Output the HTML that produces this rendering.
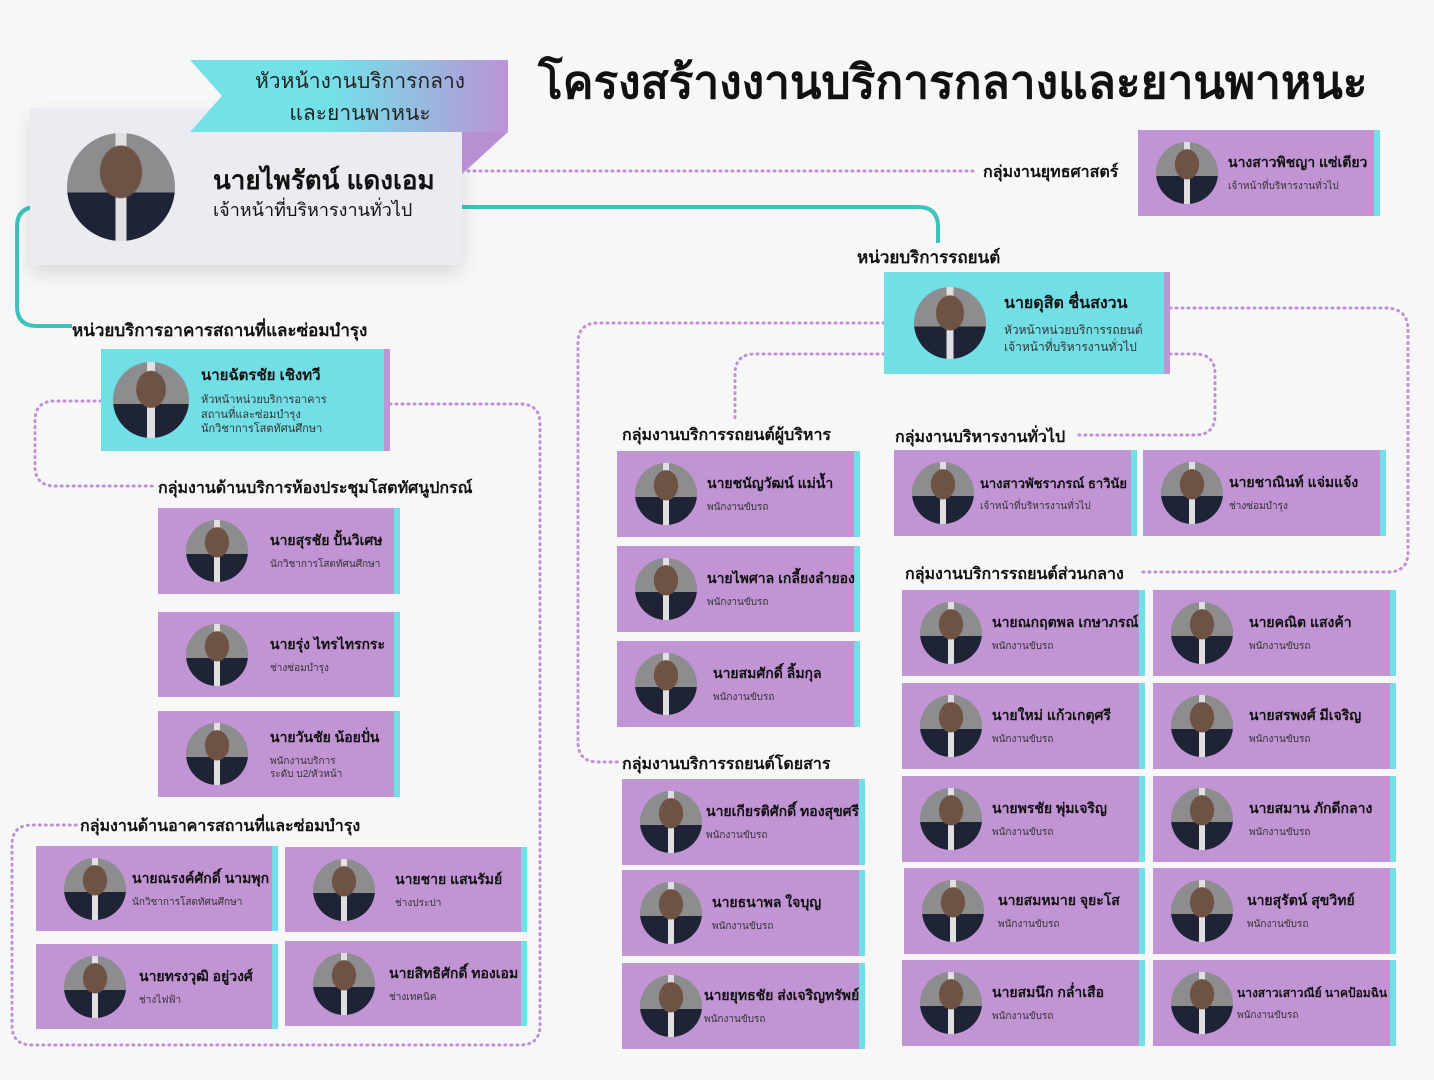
<!DOCTYPE html>
<html><head><meta charset="utf-8"><style>
*{margin:0;padding:0}
body{width:1434px;height:1080px;background:#f7f7f8;position:relative;overflow:hidden;font-family:"Liberation Sans","Noto Sans CJK SC",sans-serif;color:#111}
.c{position:absolute;background:#c194d3;border-right:6px solid #72dee6;box-sizing:border-box}
.cy{background:#72dee6;border-right:6px solid #c194d3}
.av{position:absolute;left:18px;top:50%;margin-top:-31px;width:62px;height:62px;border-radius:50%;
background:radial-gradient(ellipse 20% 25% at 50% 36%,#6e5244 0 95%,transparent 100%),linear-gradient(90deg,transparent 45%,#e0e0e2 45%,#e0e0e2 55%,transparent 55%),linear-gradient(#8d8c8e 0,#8d8c8e 55%,#1e2436 55%);}
.t{position:absolute;left:90px;right:4px;top:0;bottom:0;display:flex;flex-direction:column;justify-content:center}
.t b{font-size:14px;white-space:nowrap}
.t span{font-size:10px;color:#333;margin-top:6px;line-height:1.35}
.lab{position:absolute;font-weight:bold;font-size:17px;white-space:nowrap}
</style></head><body>
<svg width="1434" height="1080" style="position:absolute;left:0;top:0">
<g fill="none" stroke="#c08fd6" stroke-width="3" stroke-dasharray="1 5" stroke-linecap="round">
<path d="M468 171 H978"/>
<path d="M390 404 H520 Q540 404 540 424 V1025 Q540 1045 520 1045 H32 Q12 1045 12 1025 V845 Q12 825 32 825 H78"/>
<path d="M101 401 H55 Q35 401 35 421 V466 Q35 486 55 486 H156"/>
<path d="M884 323 H598 Q578 323 578 343 V742 Q578 762 598 762 H620"/>
<path d="M884 354 H755 Q735 354 735 374 V420"/>
<path d="M1170 308 H1385 Q1408 308 1408 330 V552 Q1408 572 1388 572 H1140"/>
<path d="M1170 354 H1195 Q1215 354 1215 374 V415 Q1215 435 1195 435 H1075"/>
</g>
<g fill="none" stroke="#3cc3bd" stroke-width="4">
<path d="M462 207 H918 Q938 207 938 227 V243"/>
<path d="M30 207 H37 Q17 207 17 227 V306 Q17 326 37 326 H72"/>
</g>
<defs><linearGradient id="g" x1="0" x2="1"><stop offset="0.45" stop-color="#74e0e8"/><stop offset="1" stop-color="#bb93d6"/></linearGradient></defs>
</svg>
<div style="position:absolute;left:30px;top:108px;width:432px;height:157px;background:#ebebf2;box-shadow:0 8px 18px rgba(0,0,0,.12)"></div>
<svg width="520" height="200" style="position:absolute;left:0;top:40px">
<polygon points="190,20 508,20 508,92 190,92 222,56" fill="url(#g)"/>
<polygon points="462,92 508,92 462,134" fill="#b88fd3"/>
</svg>
<div style="position:absolute;left:230px;top:66px;width:260px;text-align:center;font-size:21px;line-height:32px;color:#222">หัวหน้างานบริการกลาง<br>และยานพาหนะ</div>
<div class="av" style="left:67px;top:133px;margin:0;width:108px;height:108px"></div>
<div style="position:absolute;left:213px;top:160px;font-size:26px;font-weight:bold;white-space:nowrap">นายไพรัตน์ แดงเอม</div>
<div style="position:absolute;left:213px;top:195px;font-size:18px">เจ้าหน้าที่บริหารงานทั่วไป</div>
<div style="position:absolute;left:538px;top:46px;font-size:46px;font-weight:bold;white-space:nowrap">โครงสร้างงานบริการกลางและยานพาหนะ</div>

<div class="lab" style="left:983px;top:160px;font-size:16px">กลุ่มงานยุทธศาสตร์</div>
<div class="c" style="left:1138px;top:130px;width:242px;height:86px"><i class="av"></i><div class="t"><b>นางสาวพิชญา แซ่เตียว</b><span>เจ้าหน้าที่บริหารงานทั่วไป</span></div></div>

<div class="lab" style="left:857px;top:244px">หน่วยบริการรถยนต์</div>
<div class="c cy" style="left:884px;top:272px;width:286px;height:102px"><i class="av" style="left:30px;margin-top:-36px;width:72px;height:72px"></i><div class="t" style="left:120px"><b style="font-size:16px">นายดุสิต ชื่นสงวน</b><span style="font-size:12px">หัวหน้าหน่วยบริการรถยนต์<br>เจ้าหน้าที่บริหารงานทั่วไป</span></div></div>

<div class="lab" style="left:72px;top:317px">หน่วยบริการอาคารสถานที่และซ่อมบำรุง</div>
<div class="c cy" style="left:101px;top:349px;width:289px;height:102px"><i class="av" style="left:12px;margin-top:-38px;width:76px;height:76px"></i><div class="t" style="left:100px"><b style="font-size:15px">นายฉัตรชัย เชิงทวี</b><span style="font-size:11px">หัวหน้าหน่วยบริการอาคาร<br>สถานที่และซ่อมบำรุง<br>นักวิชาการโสตทัศนศึกษา</span></div></div>

<div class="lab" style="left:158px;top:476px;font-size:16px">กลุ่มงานด้านบริการห้องประชุมโสตทัศนูปกรณ์</div>
<div class="c" style="left:158px;top:508px;width:242px;height:86px"><i class="av" style="left:28px"></i><div class="t" style="left:112px"><b>นายสุรชัย ปั้นวิเศษ</b><span>นักวิชาการโสตทัศนศึกษา</span></div></div>
<div class="c" style="left:158px;top:612px;width:242px;height:85px"><i class="av" style="left:28px"></i><div class="t" style="left:112px"><b>นายรุ่ง ไทรไทรกระ</b><span>ช่างซ่อมบำรุง</span></div></div>
<div class="c" style="left:158px;top:711px;width:242px;height:86px"><i class="av" style="left:28px"></i><div class="t" style="left:112px"><b>นายวันชัย น้อยปั่น</b><span>พนักงานบริการ<br>ระดับ บ2/หัวหน้า</span></div></div>

<div class="lab" style="left:80px;top:814px;font-size:16px">กลุ่มงานด้านอาคารสถานที่และซ่อมบำรุง</div>
<div class="c" style="left:36px;top:846px;width:242px;height:85px"><i class="av" style="left:28px"></i><div class="t" style="left:96px"><b>นายณรงค์ศักดิ์ นามพุก</b><span>นักวิชาการโสตทัศนศึกษา</span></div></div>
<div class="c" style="left:285px;top:847px;width:242px;height:85px"><i class="av" style="left:28px"></i><div class="t" style="left:110px"><b>นายชาย แสนรัมย์</b><span>ช่างประปา</span></div></div>
<div class="c" style="left:36px;top:944px;width:242px;height:85px"><i class="av" style="left:28px"></i><div class="t" style="left:103px"><b>นายทรงวุฒิ อยู่วงศ์</b><span>ช่างไฟฟ้า</span></div></div>
<div class="c" style="left:285px;top:941px;width:242px;height:85px"><i class="av" style="left:28px"></i><div class="t" style="left:104px"><b>นายสิทธิศักดิ์ ทองเอม</b><span>ช่างเทคนิค</span></div></div>

<div class="lab" style="left:622px;top:423px;font-size:16px">กลุ่มงานบริการรถยนต์ผู้บริหาร</div>
<div class="c" style="left:617px;top:451px;width:243px;height:86px"><i class="av"></i><div class="t"><b>นายชนัญวัฒน์ แม่น้ำ</b><span>พนักงานขับรถ</span></div></div>
<div class="c" style="left:617px;top:546px;width:243px;height:86px"><i class="av"></i><div class="t"><b>นายไพศาล เกลี้ยงลำยอง</b><span>พนักงานขับรถ</span></div></div>
<div class="c" style="left:617px;top:641px;width:243px;height:86px"><i class="av"></i><div class="t" style="left:96px"><b>นายสมศักดิ์ ลิ้มกุล</b><span>พนักงานขับรถ</span></div></div>

<div class="lab" style="left:622px;top:752px;font-size:16px">กลุ่มงานบริการรถยนต์โดยสาร</div>
<div class="c" style="left:622px;top:779px;width:243px;height:86px"><i class="av"></i><div class="t" style="left:84px"><b>นายเกียรติศักดิ์ ทองสุขศรี</b><span>พนักงานขับรถ</span></div></div>
<div class="c" style="left:622px;top:870px;width:243px;height:86px"><i class="av"></i><div class="t"><b>นายธนาพล ใจบุญ</b><span>พนักงานขับรถ</span></div></div>
<div class="c" style="left:622px;top:963px;width:243px;height:86px"><i class="av"></i><div class="t" style="left:82px"><b>นายยุทธชัย ส่งเจริญทรัพย์</b><span>พนักงานขับรถ</span></div></div>

<div class="lab" style="left:895px;top:425px;font-size:16px">กลุ่มงานบริหารงานทั่วไป</div>
<div class="c" style="left:894px;top:450px;width:243px;height:86px"><i class="av"></i><div class="t" style="left:86px"><b style="font-size:13px">นางสาวพัชราภรณ์ ธาวินัย</b><span>เจ้าหน้าที่บริหารงานทั่วไป</span></div></div>
<div class="c" style="left:1143px;top:450px;width:243px;height:86px"><i class="av"></i><div class="t" style="left:86px"><b>นายชาณินท์ แจ่มแจ้ง</b><span>ช่างซ่อมบำรุง</span></div></div>

<div class="lab" style="left:905px;top:562px;font-size:16px">กลุ่มงานบริการรถยนต์ส่วนกลาง</div>
<div class="c" style="left:902px;top:590px;width:243px;height:86px"><i class="av"></i><div class="t"><b>นายณกฤตพล เกษาภรณ์</b><span>พนักงานขับรถ</span></div></div>
<div class="c" style="left:1153px;top:590px;width:243px;height:86px"><i class="av"></i><div class="t" style="left:96px"><b>นายคณิต แสงค้า</b><span>พนักงานขับรถ</span></div></div>
<div class="c" style="left:902px;top:683px;width:243px;height:86px"><i class="av"></i><div class="t"><b>นายใหม่ แก้วเกตุศรี</b><span>พนักงานขับรถ</span></div></div>
<div class="c" style="left:1153px;top:683px;width:243px;height:86px"><i class="av"></i><div class="t" style="left:96px"><b>นายสรพงศ์ มีเจริญ</b><span>พนักงานขับรถ</span></div></div>
<div class="c" style="left:902px;top:776px;width:243px;height:86px"><i class="av"></i><div class="t"><b>นายพรชัย พุ่มเจริญ</b><span>พนักงานขับรถ</span></div></div>
<div class="c" style="left:1153px;top:776px;width:243px;height:86px"><i class="av"></i><div class="t" style="left:96px"><b>นายสมาน ภักดีกลาง</b><span>พนักงานขับรถ</span></div></div>
<div class="c" style="left:904px;top:868px;width:241px;height:86px"><i class="av"></i><div class="t" style="left:94px"><b>นายสมหมาย จุยะโส</b><span>พนักงานขับรถ</span></div></div>
<div class="c" style="left:1153px;top:868px;width:243px;height:86px"><i class="av"></i><div class="t" style="left:94px"><b>นายสุรัตน์ สุขวิทย์</b><span>พนักงานขับรถ</span></div></div>
<div class="c" style="left:902px;top:960px;width:243px;height:86px"><i class="av"></i><div class="t"><b>นายสมนึก กล่ำเสือ</b><span>พนักงานขับรถ</span></div></div>
<div class="c" style="left:1153px;top:960px;width:243px;height:86px"><i class="av"></i><div class="t" style="left:84px"><b style="font-size:12px">นางสาวเสาวณีย์ นาคป้อมฉิน</b><span>พนักงานขับรถ</span></div></div>
</body></html>
